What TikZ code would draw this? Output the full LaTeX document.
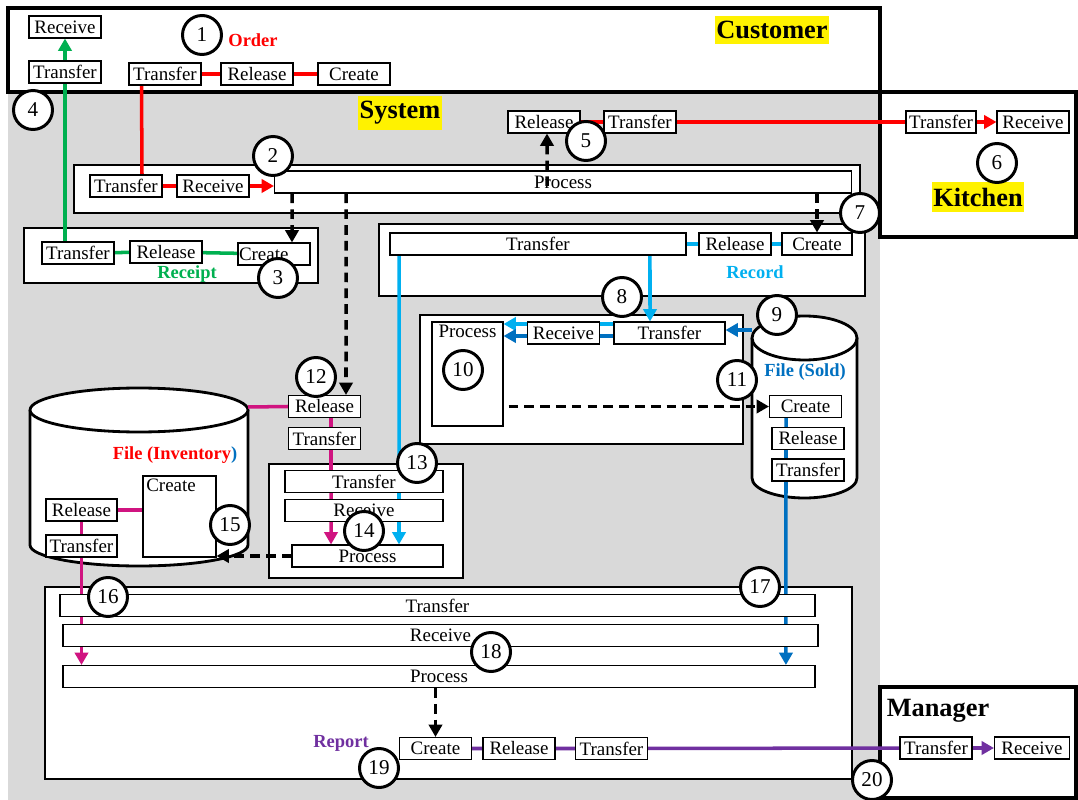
\documentclass[tikz,border=0pt]{standalone}
\usepackage{fontspec}
\setmainfont{Liberation Serif}
\usetikzlibrary{arrows.meta}
\definecolor{ordred}{RGB}{255,0,0}
\definecolor{rcptgreen}{RGB}{0,176,80}
\definecolor{reclblue}{RGB}{0,176,240}
\definecolor{solddblue}{RGB}{0,112,192}
\definecolor{invmag}{RGB}{208,20,128}
\definecolor{reppurple}{RGB}{112,48,160}
\definecolor{sysgray}{RGB}{217,217,217}
\pgfdeclarelayer{back}
\pgfdeclarelayer{lines}
\pgfsetlayers{back,lines,main}

\begin{document}
\begin{tikzpicture}[x=0.02cm, y=-0.02cm,
  box/.style={draw, fill=white, line width=0.6pt, inner sep=0pt, minimum height=0.44cm, minimum width=1.44cm, font=\fontsize{10.8}{12}\selectfont},
  bw/.style={minimum width=#1*0.02cm},
  bh/.style={minimum height=#1*0.02cm},
  num/.style={circle, draw, line width=1.7pt, fill=white, minimum size=0.78cm, inner sep=0pt, font=\fontsize{12}{12}\selectfont},
  actor/.style={font=\bfseries\fontsize{15}{16}\selectfont, fill=yellow, inner xsep=1pt, inner ysep=3pt},
  tag/.style={font=\bfseries\fontsize{10.5}{12}\selectfont, inner sep=1pt},
  lane/.style={draw, line width=2pt},
  grp/.style={draw, fill=white, line width=0.6pt},
  link/.style={line width=2pt},
  flow/.style={line width=2pt, -{Triangle[length=7pt,width=7.5pt]}},
  signal/.style={line width=2pt, dash pattern=on 5.5pt off 3.5pt, -{Triangle[length=7pt,width=7.5pt]}}
]
\useasboundingbox (0,0) rectangle (1078,800);

\begin{pgfonlayer}{back}
\fill[white] (0,0) rectangle (1078,800);
\fill[sysgray] (8,92) rectangle (880,800);
\draw[lane] (8,8) rectangle (880,92);
\draw[lane] (880,92) rectangle (1076,237);
\draw[lane] (880,687) rectangle (1076,798);
\draw[grp] (74,165) rectangle (860,213);
\draw[grp] (24,228) rectangle (318,283);
\draw[grp] (379,224) rectangle (865,296);
\draw[grp] (420,315) rectangle (743,444);
\draw[grp] (269,464) rectangle (463,578);
\draw[grp] (45,587) rectangle (852,779);
\draw[fill=white, line width=1.6pt] (752,338) -- (752,478) arc[start angle=180, end angle=360, x radius=1.05cm, y radius=0.4cm] -- (857,338);
\draw[fill=white, line width=1.6pt] (804.5,338) ellipse [x radius=1.05cm, y radius=0.44cm];
\draw[fill=white, line width=1.6pt] (30,410) -- (30,545) arc[start angle=180, end angle=360, x radius=2.18cm, y radius=0.42cm] -- (248,410);
\draw[fill=white, line width=1.6pt] (139,410) ellipse [x radius=2.18cm, y radius=0.44cm];
\end{pgfonlayer}

\node[actor] (customer) at (772,30) {Customer};
\node[actor] (system) at (400,113) {System};
\node[actor] (kitchen) at (978,197) {Kitchen};
\node[actor, fill=none] (manager) at (938,711) {Manager};
\node[tag, text=ordred] (order) at (253,40) {Order};
\node[tag, text=rcptgreen] (receipt) at (187,274) {Receipt};
\node[tag, text=reclblue] (record) at (755,272) {Record};
\node[tag, text=solddblue] (sold) at (805,372) {File (Sold)};
\node[tag, text=ordred] (inventory) at (175,455) {File (Inventory\textcolor{solddblue}{)}};
\node[tag, text=reppurple] (report) at (341,743) {Report};

\node[box] (crecv) at (65,27) {Receive};
\node[box] (ctrans) at (65,72) {Transfer};
\node[box] (otrans) at (165,74) {Transfer};
\node[box] (orel) at (257,74) {Release};
\node[box] (ocreat) at (354,74) {Create};

\node[box] (strans) at (126,186) {Transfer};
\node[box] (srecv) at (213,186) {Receive};
\node[box, bw=577] (sproc) at (563,182) {Process};
\node[box] (krel) at (544,122) {Release};
\node[box] (ktrans) at (640,122) {Transfer};
\node[box, bw=70] (kitrans) at (941,122) {Transfer};
\node[box] (kirecv) at (1033,122) {Receive};

\node[box] (rctrans) at (78,253) {Transfer};
\node[box] (rcrel) at (166,252) {Release};
\node[box, text width=1.4cm, align=left, inner xsep=0.02cm] (rccreat) at (274,254) {Create};

\node[box, bw=296] (rtrans) at (538,244) {Transfer};
\node[box] (rrel) at (735,244) {Release};
\node[box, bw=70] (rcreat) at (817,244) {Create};

\node[box, bw=71, bh=104] (p10) at (467.5,374) {};
\node[anchor=north, inner sep=2pt, font=\fontsize{10.8}{12}\selectfont] (p10text) at (p10.north) {Process};
\node[box] (r10) at (563.5,333) {Receive};
\node[box, bw=111] (t10) at (669.5,333) {Transfer};

\node[box] (socreat) at (805.5,406.5) {Create};
\node[box] (sorel) at (808,438.5) {Release};
\node[box] (sotrans) at (808,470) {Transfer};

\node[box, bw=73, bh=81] (icreat) at (179.5,516.5) {};
\node[anchor=north west, inner sep=2pt, font=\fontsize{10.8}{12}\selectfont] (icreattext) at (icreat.north west) {Create};
\node[box, bw=71] (irel) at (81.5,510) {Release};
\node[box, bw=71] (itrans) at (81.5,546) {Transfer};
\node[box] (invrel) at (324.5,406.5) {Release};
\node[box] (invtrans) at (324.5,438.5) {Transfer};

\node[box, bw=158] (t14) at (364,481.5) {Transfer};
\node[box, bw=158] (r14) at (364,510.5) {Receive};
\node[box, bw=151] (p14) at (367.5,556) {Process};

\node[box, bw=755] (btrans) at (437.5,605.5) {Transfer};
\node[box, bw=755] (brecv) at (440.5,635.5) {Receive};
\node[box, bw=752] (bproc) at (439,676.5) {Process};
\node[box] (mcreat) at (435.5,748.5) {Create};
\node[box] (mrel) at (519,748.5) {Release};
\node[box] (mtrans) at (611.5,748.5) {Transfer};
\node[box] (mgtrans) at (936,748) {Transfer};
\node[box, bw=75] (mgrecv) at (1032,748) {Receive};

\coordinate (soldw) at (752,330);
\coordinate (inve) at (248,407);

\begin{pgfonlayer}{lines}
\draw[link, ordred] (otrans) -- (orel) -- (ocreat);
\draw[link, ordred] ([xshift=-0.47cm]otrans.south) -- ([xshift=0.32cm]strans.north);
\draw[link, ordred] (strans) -- (srecv);
\draw[flow, ordred] (srecv.east) -- (srecv.east -| sproc.west);
\draw[link, ordred] (krel) -- (ktrans) -- (kitrans);
\draw[flow, ordred] (kitrans) -- (kirecv);

\draw[link, rcptgreen] (rctrans) -- (rcrel) -- (rccreat);
\draw[link, rcptgreen] (ctrans.south |- rctrans.north) -- (ctrans.south);
\draw[flow, rcptgreen] (ctrans) -- (crecv);

\draw[signal] ([xshift=-5.42cm]sproc.south) -- ([xshift=0.36cm]rccreat.north);
\draw[signal] ([xshift=-4.34cm]sproc.south) -- ([xshift=0.43cm]invrel.north);
\draw[signal] (sproc.south -| rcreat.north) -- (rcreat.north);
\draw[signal] ([xshift=0.1cm]p10.east |- socreat.west) -- (socreat.west);
\draw[signal] (p14.west) -- (p14.west -| icreat.east);
\draw[signal] (mcreat.north |- bproc.south) -- (mcreat.north);

\draw[link, reclblue] (rtrans) -- (rrel) -- (rcreat);
\draw[flow, reclblue] ([xshift=2.24cm]rtrans.south) -- ([xshift=-0.39cm]t10.north);
\draw[flow, reclblue] ([xshift=-2.78cm]rtrans.south) -- ([xshift=0.63cm]p14.north);
\draw[link, reclblue] ([yshift=0.18cm]t10.west) -- ([yshift=0.18cm]r10.east);
\draw[flow, reclblue] ([yshift=0.18cm]r10.west) -- ([yshift=0.18cm]r10.west -| p10.east);

\draw[link, solddblue] ([yshift=-0.06cm]t10.west) -- ([yshift=-0.06cm]r10.east);
\draw[flow, solddblue] ([yshift=-0.06cm]r10.west) -- ([yshift=-0.06cm]r10.west -| p10.east);
\draw[flow, solddblue] (soldw) -- (soldw -| t10.east);
\draw[flow, solddblue] ([xshift=-0.39cm]socreat.south) -- ([xshift=6.94cm]bproc.north);

\draw[link, invmag] (inve) -- (invrel.west);
\draw[link, invmag] ([xshift=0.13cm]invrel.south) -- ([xshift=0.13cm]invtrans.north);
\draw[flow, invmag] ([xshift=0.13cm]invtrans.south) -- ([xshift=-0.73cm]p14.north);
\draw[link, invmag] (irel.east) -- (irel.east -| icreat.west);
\draw[link, invmag] (irel) -- (itrans);
\draw[flow, invmag] (itrans.south) -- (itrans.south |- bproc.north);

\draw[link, reppurple] (mcreat) -- (mrel) -- (mtrans) -- (mgtrans);
\draw[flow, reppurple] (mgtrans) -- (mgrecv);
\end{pgfonlayer}

\draw[signal] ([xshift=-0.32cm,yshift=-0.08cm]sproc.center) -- ([xshift=0.06cm]krel.south);

\node[num] (n1) at (202,35) {1};
\node[num] (n2) at (273,156) {2};
\node[num] (n3) at (278,278) {3};
\node[num] (n4) at (33,110) {4};
\node[num] (n5) at (586,141) {5};
\node[num] (n6) at (997,163) {6};
\node[num] (n7) at (860,213) {7};
\node[num] (n8) at (622,297) {8};
\node[num] (n9) at (777,315) {9};
\node[num] (n10) at (463,370) {10};
\node[num] (n11) at (737,380) {11};
\node[num] (n12) at (316,377) {12};
\node[num] (n13) at (417,463) {13};
\node[num] (n14) at (364,531) {14};
\node[num] (n15) at (230,525) {15};
\node[num] (n16) at (108,597) {16};
\node[num] (n17) at (760,587) {17};
\node[num] (n18) at (491,652) {18};
\node[num] (n19) at (379,768) {19};
\node[num] (n20) at (872,780) {20};
\end{tikzpicture}
\end{document}
